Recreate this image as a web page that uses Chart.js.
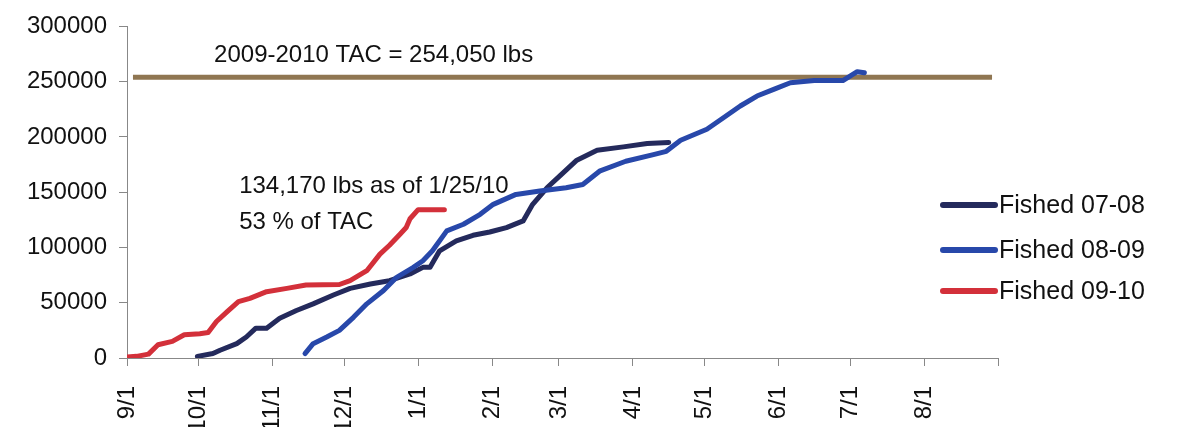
<!DOCTYPE html>
<html>
<head>
<meta charset="utf-8">
<script src="https://cdn.jsdelivr.net/npm/chart.js@4/dist/chart.umd.min.js"></script>
<style>
  html, body { margin: 0; padding: 0; background: #ffffff; }
  #wrap { width: 1179px; height: 427px; position: relative; }
</style>
</head>
<body>
<div id="wrap"><canvas id="c" width="1179" height="427"></canvas></div>
<script>
// ---- data (x = days since 9/1, y = cumulative lbs) ----
const xTickDays   = [0, 30, 61, 91, 122, 153, 181, 212, 242, 273, 303, 334, 365];
const xTickLabels = ['9/1','10/1','11/1','12/1','1/1','2/1','3/1','4/1','5/1','6/1','7/1','8/1',''];
const yTicks      = [0, 50000, 100000, 150000, 200000, 250000, 300000];

const seriesNames = ['Fished 07-08', 'Fished 08-09', 'Fished 09-10'];

const days07 = [29.5, 36, 39, 46, 50, 54, 58.5, 64, 71, 78, 86.5, 93.5, 102, 107.5, 110, 118.6, 124, 127, 131, 138, 145, 152, 159, 166, 170, 176, 181.5, 188.5, 197, 208, 218, 227];
const vals07 = [1500, 4000, 7000, 13000, 19000, 27000, 27000, 36000, 43000, 49000, 57000, 63000, 67000, 69000, 70000, 76000, 82000, 82000, 97000, 106000, 111000, 114000, 118000, 124000, 139000, 154000, 165000, 179000, 188000, 191000, 194000, 195000];

const days08 = [74.6, 78, 83.7, 89, 95, 100.5, 107.5, 113, 120, 124, 128, 134, 141, 148, 153.5, 163, 173, 184, 191, 198, 209, 220.6, 226, 232, 243, 251, 257, 264, 271, 278, 288, 300, 303, 306, 309];
const vals08 = [4000, 13000, 19000, 25000, 37000, 49000, 61000, 73000, 82000, 88000, 97000, 115000, 121000, 130000, 139000, 148000, 151000, 154000, 157000, 169000, 178000, 184000, 187000, 197000, 207000, 219000, 228000, 237000, 243000, 249000, 251000, 251000, 255000, 259000, 258000];

const days09 = [0, 4, 9, 13, 19, 24, 30.5, 34, 37.5, 42, 46.7, 51.5, 58.5, 67, 75, 89, 93.5, 100.5, 106, 110, 114.4, 117, 118.6, 122, 133];
const vals09 = [1000, 1500, 3500, 12000, 15000, 21000, 22000, 23000, 33000, 42000, 51000, 54000, 60000, 63000, 66000, 66500, 70000, 79000, 94000, 102000, 112000, 118000, 126000, 134170, 134170];

const tacValue = 254050;
const tacDays  = [2.5, 362.5];

const colors = { s07: '#242a5c', s08: '#2848aa', s09: '#d3303a', tac: '#8f7652' };

function pts(xs, ys) { return xs.map((x, i) => ({ x: x, y: ys[i] })); }

const FONT = '"Liberation Sans", Arial, sans-serif';
const TEXT = '#111111';

const overlayPlugin = {
  id: 'overlay',
  afterDatasetsDraw(chart) {
    const ctx = chart.ctx;
    const xs = chart.scales.x, ys = chart.scales.y;
    ctx.save();
    ctx.fillStyle = TEXT;
    ctx.textBaseline = 'alphabetic';
    ctx.textAlign = 'left';
    ctx.font = '24px ' + FONT;
    ctx.fillText('2009-2010 TAC = 254,050 lbs', xs.getPixelForValue(36.5), ys.getPixelForValue(268000));
    ctx.fillText('134,170 lbs as of 1/25/10', xs.getPixelForValue(47), ys.getPixelForValue(149000));
    ctx.fillText('53 % of TAC', xs.getPixelForValue(47), ys.getPixelForValue(117000));

    // legend
    const legendItems = [
      { name: seriesNames[0], color: colors.s07, y: 205 },
      { name: seriesNames[1], color: colors.s08, y: 250 },
      { name: seriesNames[2], color: colors.s09, y: 291 }
    ];
    ctx.font = '25px ' + FONT;
    ctx.textBaseline = 'middle';
    legendItems.forEach(it => {
      ctx.strokeStyle = it.color;
      ctx.lineWidth = 6;
      ctx.lineCap = 'round';
      ctx.beginPath();
      ctx.moveTo(943, it.y);
      ctx.lineTo(995, it.y);
      ctx.stroke();
      ctx.fillStyle = TEXT;
      ctx.fillText(it.name, 999, it.y + 1);
    });
    ctx.restore();
  }
};

new Chart(document.getElementById('c'), {
  type: 'line',
  data: {
    datasets: [
      { label: seriesNames[2], data: pts(days09, vals09), borderColor: colors.s09, borderWidth: 5, pointRadius: 0, tension: 0, borderJoinStyle: 'round', borderCapStyle: 'round' },
      { label: seriesNames[1], data: pts(days08, vals08), borderColor: colors.s08, borderWidth: 5, pointRadius: 0, tension: 0, borderJoinStyle: 'round', borderCapStyle: 'round' },
      { label: seriesNames[0], data: pts(days07, vals07), borderColor: colors.s07, borderWidth: 5, pointRadius: 0, tension: 0, borderJoinStyle: 'round', borderCapStyle: 'round' },
      { label: 'TAC', data: pts(tacDays, [tacValue, tacValue]), borderColor: colors.tac, borderWidth: 5, pointRadius: 0, tension: 0 }
    ]
  },
  options: {
    responsive: false,
    animation: false,
    devicePixelRatio: 1,
    layout: { padding: { left: 0, right: 181, top: 26, bottom: 0 } },
    plugins: { legend: { display: false }, tooltip: { enabled: false } },
    scales: {
      x: {
        type: 'linear',
        min: 0, max: 365,
        afterBuildTicks: (scale) => { scale.ticks = xTickDays.map(v => ({ value: v })); },
        afterFit: (scale) => { scale.height = 69; },
        ticks: {
          autoSkip: false,
          minRotation: 90, maxRotation: 90,
          padding: 20,
          color: TEXT,
          font: { family: FONT, size: 24 },
          callback: (v) => { const i = xTickDays.indexOf(v); return i >= 0 ? xTickLabels[i] : ''; }
        },
        grid: { drawOnChartArea: false, drawTicks: true, tickLength: 8, color: '#888888', lineWidth: 1 },
        border: { display: true, color: '#888888', width: 1 }
      },
      y: {
        min: 0, max: 300000,
        afterBuildTicks: (scale) => { scale.ticks = yTicks.map(v => ({ value: v })); },
        afterFit: (scale) => { scale.width = 127; },
        ticks: {
          padding: 12,
          color: TEXT,
          font: { family: FONT, size: 24 },
          callback: (v) => String(v)
        },
        grid: { drawOnChartArea: false, drawTicks: true, tickLength: 8, color: '#888888', lineWidth: 1 },
        border: { display: true, color: '#888888', width: 1 }
      }
    }
  },
  plugins: [overlayPlugin]
});
</script>
</body>
</html>
